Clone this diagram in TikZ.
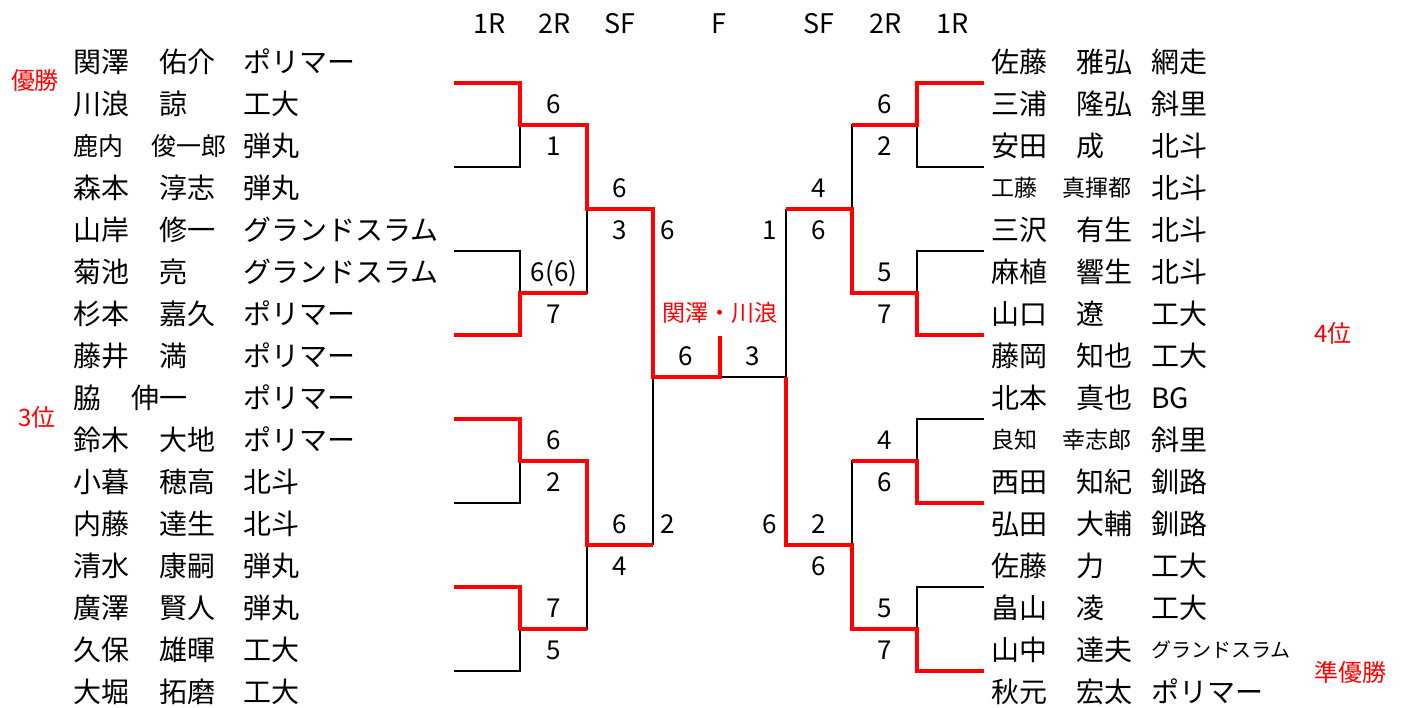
\documentclass[tikz,border=0pt]{standalone}
\usepackage{fontspec}
\setmainfont{Noto Sans CJK JP}
\usetikzlibrary{calc}

\tikzset{
  win/.style={draw=red, line width=4.5pt},
  lose/.style={draw=black, line width=2pt},
  player/.style={anchor=base west, inner sep=0pt, font=\fontsize{28}{28}\selectfont},
  small/.style={font=\fontsize{#1}{#1}\selectfont},
  score/.style={anchor=base, inner sep=0pt, font=\fontsize{26}{26}\selectfont},
  rank/.style={anchor=base, inner sep=0pt, text=red, font=\fontsize{24}{24}\selectfont},
}

\begin{document}
\begin{tikzpicture}[x=1pt, y=-1pt]
  \useasboundingbox (0,0) rectangle (1406,708);

  % round headings
  \foreach \x/\t [count=\i] in {490/1R, 555/2R, 620/SF, 719/F, 819/SF, 886/2R, 953/1R}
    \node[score, small=27] (head\i) at (\x,34) {\t};

  % left players
  \foreach \r/\fam/\giv/\team in {1/関澤/佑介/ポリマー, 2/川浪/諒/工大, 4/森本/淳志/弾丸,
      5/山岸/修一/グランドスラム, 6/菊池/亮/グランドスラム, 7/杉本/嘉久/ポリマー, 8/藤井/満/ポリマー,
      10/鈴木/大地/ポリマー, 11/小暮/穂高/北斗, 12/内藤/達生/北斗, 13/清水/康嗣/弾丸,
      14/廣澤/賢人/弾丸, 15/久保/雄暉/工大, 16/大堀/拓磨/工大}{
    \node[player] (lsur\r) at (73,{20+42*\r+10.6}) {\fam};
    \node[player] (lgiv\r) at (159,{20+42*\r+10.6}) {\giv};
    \node[player] (lteam\r) at (243,{20+42*\r+10.6}) {\team};
  }
  \node[player, small=25] (lsur3) at (73,{146+9.5}) {鹿内};
  \node[player, small=25] (lgiv3) at (151,{146+9.5}) {俊一郎};
  \node[player] (lteam3) at (243,{146+10.6}) {弾丸};
  \node[player] (lsur9) at (73,{398+10.6}) {脇};
  \node[player] (lgiv9) at (131,{398+10.6}) {伸一};
  \node[player] (lteam9) at (243,{398+10.6}) {ポリマー};

  % right players
  \foreach \r/\fam/\giv/\team in {1/佐藤/雅弘/網走, 2/三浦/隆弘/斜里, 3/安田/成/北斗,
      5/三沢/有生/北斗, 6/麻植/響生/北斗, 7/山口/遼/工大, 8/藤岡/知也/工大, 9/北本/真也/BG,
      11/西田/知紀/釧路, 12/弘田/大輔/釧路, 13/佐藤/力/工大, 14/畠山/凌/工大, 16/秋元/宏太/ポリマー}{
    \node[player] (rsur\r) at (991,{20+42*\r+10.6}) {\fam};
    \node[player] (rgiv\r) at (1076,{20+42*\r+10.6}) {\giv};
    \node[player] (rteam\r) at (1151,{20+42*\r+10.6}) {\team};
  }
  \node[player, small=23] (rsur4) at (991,{188+8.7}) {工藤};
  \node[player, small=23] (rgiv4) at (1062,{188+8.7}) {真揮都};
  \node[player] (rteam4) at (1151,{188+10.6}) {北斗};
  \node[player, small=23] (rsur10) at (991,{440+8.7}) {良知};
  \node[player, small=23] (rgiv10) at (1062,{440+8.7}) {幸志郎};
  \node[player] (rteam10) at (1151,{440+10.6}) {斜里};
  \node[player] (rsur15) at (991,{650+10.6}) {山中};
  \node[player] (rgiv15) at (1076,{650+10.6}) {達夫};
  \node[player, small=20] (rteam15) at (1151,{650+7.6}) {グランドスラム};

  % bracket points
  \foreach \i in {1,...,8}{
    \coordinate (la\i) at (454,{83+84*(\i-1)});
    \coordinate (ra\i) at (984,{83+84*(\i-1)});
  }
  \foreach \i in {1,...,4}{
    \coordinate (lb\i) at (520,{125+168*(\i-1)});
    \coordinate (rb\i) at (917,{125+168*(\i-1)});
  }
  \coordinate (lc1) at (587,209); \coordinate (lc2) at (587,545);
  \coordinate (rc1) at (852,209); \coordinate (rc2) at (852,545);
  \coordinate (ld) at (653,377);  \coordinate (rd) at (786,377);
  \coordinate (fc) at (720,377);  \coordinate (ftop) at (720,336);

  % losing lines
  \draw[lose] (la2) -| (lb1);
  \draw[lose] (la3) -| (lb2) -| (lc1);
  \draw[lose] (la6) -| (lb3);
  \draw[lose] (la8) -| (lb4) -| (lc2);
  \draw[lose] (lc2 -| ld) -- (ld);
  \draw[lose] (ra2) -| (rb1) -| (rc1);
  \draw[lose] (ra3) -| (rb2);
  \draw[lose] (rc1 -| rd) -- (rd);
  \draw[lose] (ra5) -| (rb3) -| (rc2);
  \draw[lose] (ra7) -| (rb4);
  \draw[lose] (rd) -- (fc);

  % winning lines
  \draw[win] (la1) -| (lb1) -| (lc1) -| (ld) -| (ftop);
  \draw[win] (la4) -| (lb2) -- (lb2 -| lc1);
  \draw[win] (la5) -| (lb3) -| (lc2) -- (lc2 -| ld);
  \draw[win] (la7) -| (lb4) -- (lb4 -| lc2);
  \draw[win] (ra1) -| (rb1) -- (rb1 -| rc1);
  \draw[win] (ra4) -| (rb2) -| (rc1) -- (rc1 -| rd);
  \draw[win] (ra6) -| (rb3) -- (rb3 -| rc2);
  \draw[win] (ra8) -| (rb4) -| (rc2) -| (rd);

  % scores
  \foreach \x/\r/\t [count=\i] in {554/2/6, 554/3/1, 554/6/6(6), 554/7/7, 554/10/6, 554/11/2,
      554/14/7, 554/15/5, 620/4/6, 620/5/3, 620/12/6, 620/13/4, 668/5/6, 668/12/2,
      686/8/6, 753/8/3, 770/5/1, 770/12/6, 819/4/4, 819/5/6, 819/12/2, 819/13/6,
      885/2/6, 885/3/2, 885/6/5, 885/7/7, 885/10/4, 885/11/6, 885/14/5, 885/15/7}
    \node[score] (sc\i) at (\x,{20+42*\r+9.5}) {\t};

  % placings
  \node[rank, small=23] (champ) at (720,{313+8.7}) {関澤・川浪};
  \node[rank] (first) at (35,{81+9}) {優勝};
  \node[rank] (third) at (37,{418+9}) {3位};
  \node[rank] (fourth) at (1333,{334+9}) {4位};
  \node[rank] (second) at (1350,{672+9}) {準優勝};
\end{tikzpicture}
\end{document}
